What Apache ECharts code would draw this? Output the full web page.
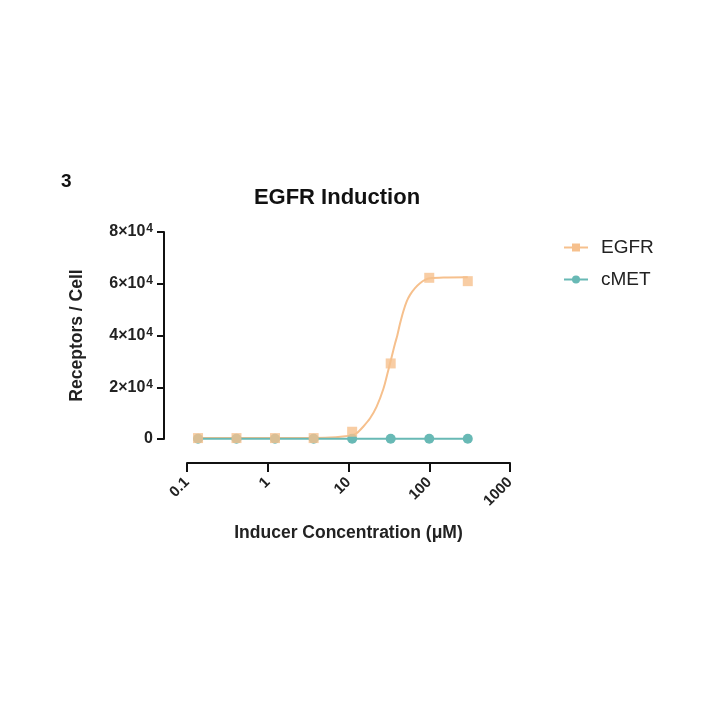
<!DOCTYPE html>
<html>
<head>
<meta charset="utf-8">
<title>EGFR Induction</title>
<script src="https://cdn.jsdelivr.net/npm/echarts@6/dist/echarts.min.js"></script>
<style>
  html, body { margin: 0; padding: 0; background: #fff; }
  #main { width: 720px; height: 720px; }
</style>
</head>
<body>
<div id="main"></div>
<script>
// 浓度（μM），3倍稀释
var concentrations = [0.137, 0.41, 1.23, 3.7, 11.1, 33.3, 100, 300];
// 受体数 / 细胞
var egfrValues = [350, 350, 350, 350, 2800, 29200, 62300, 61000];
var cmetValues = [100, 100, 100, 100, 100, 100, 100, 100];
// 拟合曲线
var fitX = [0.137, 1, 3, 5.9, 8.5, 11, 12.6, 15.2, 18.5, 22.3, 27, 31.1, 34.3, 37.7, 40.2, 43.4, 47.7, 52.6, 57.8, 66.6, 76.8, 88.5, 102, 150, 300];
var fitY = [380, 390, 420, 600, 1000, 1500, 2200, 4750, 8000, 12500, 19300, 26600, 31800, 36900, 40000, 44500, 49300, 53200, 55700, 58300, 60200, 61500, 62100, 62400, 62500];
var xTicks = [0.1, 1, 10, 100, 1000];
var yTicks = [0, 20000, 40000, 60000, 80000];

var orange = '#F6C08D';
var teal = '#68B9B5';
var font = '"Liberation Sans", Arial, Helvetica, sans-serif';

function pairs(xs, ys) {
    return xs.map(function (x, i) { return [x, ys[i]]; });
}

var myChart = echarts.init(document.getElementById('main'));
var option = {
    animation: false,
    title: [{
        text: 'EGFR Induction',
        left: 332,
        top: 182,
        textAlign: 'center',
        textStyle: { fontFamily: font, fontSize: 22, fontWeight: 'bold', color: '#111' }
    }, {
        text: '3',
        left: 56,
        top: 167,
        textStyle: { fontFamily: font, fontSize: 19, fontWeight: 'bold', color: '#111' }
    }],
    legend: {
        orient: 'vertical',
        left: 558,
        top: 233,
        itemWidth: 24,
        itemHeight: 10,
        itemGap: 13,
        textStyle: { fontFamily: font, fontSize: 19, color: '#222', padding: [0, 0, 0, 8] },
        data: ['EGFR', 'cMET']
    },
    grid: { left: 187, right: 210, top: 232, bottom: 281 },
    xAxis: {
        type: 'log',
        logBase: 10,
        min: xTicks[0],
        max: xTicks[xTicks.length - 1],
        offset: 24,
        name: 'Inducer Concentration (μM)',
        nameLocation: 'middle',
        nameGap: 61,
        nameMoveOverlap: false,
        nameTextStyle: { fontFamily: font, fontSize: 17.5, fontWeight: 'bold', color: '#222', verticalAlign: 'top' },
        axisLine: { onZero: false, lineStyle: { color: '#111', width: 2 } },
        axisTick: { length: 9, lineStyle: { color: '#111', width: 2 } },
        minorTick: { show: false },
        splitLine: { show: false },
        axisLabel: {
            rotate: 45,
            margin: 17,
            fontFamily: font,
            fontSize: 15,
            fontWeight: 'bold',
            color: '#222',
            formatter: function (v) {
                var m = xTicks.filter(function (t) { return Math.abs(t - v) / t < 1e-6; });
                return m.length ? String(m[0]) : '';
            }
        }
    },
    yAxis: {
        type: 'value',
        min: yTicks[0],
        max: yTicks[yTicks.length - 1],
        interval: yTicks[1] - yTicks[0],
        offset: 23,
        name: 'Receptors / Cell',
        nameLocation: 'middle',
        nameGap: 78,
        nameMoveOverlap: false,
        nameTextStyle: { fontFamily: font, fontSize: 17.5, fontWeight: 'bold', color: '#222' },
        axisLine: { show: true, lineStyle: { color: '#111', width: 2 } },
        axisTick: { show: true, length: 7, lineStyle: { color: '#111', width: 2 } },
        splitLine: { show: false },
        axisLabel: {
            margin: 11,
            color: '#222',
            formatter: function (v) {
                if (v === 0) return '{b|0}';
                var e = Math.floor(Math.log10(v));
                var m = Math.round(v / Math.pow(10, e));
                return '{b|' + m + '×10}{s|' + e + '}';
            },
            rich: {
                b: { fontFamily: font, fontSize: 16, fontWeight: 'bold', color: '#222' },
                s: { fontFamily: font, fontSize: 12, fontWeight: 'bold', color: '#222', padding: [0, 0, 6, 1] }
            }
        }
    },
    series: [{
        name: 'EGFR',
        type: 'line',
        data: pairs(fitX, fitY),
        smooth: 0.3,
        symbol: 'rect',
        symbolSize: 10,
        showSymbol: false,
        color: orange,
        lineStyle: { color: orange, width: 2 },
        z: 2
    }, {
        name: 'EGFR',
        type: 'scatter',
        data: pairs(concentrations, egfrValues),
        symbol: 'rect',
        symbolSize: 10,
        itemStyle: { color: orange },
        z: 4
    }, {
        name: 'cMET',
        type: 'line',
        data: pairs(concentrations, cmetValues),
        symbol: 'circle',
        symbolSize: 10,
        showSymbol: true,
        color: teal,
        itemStyle: { color: teal },
        lineStyle: { color: teal, width: 2 },
        z: 3
    }]
};
myChart.setOption(option);
</script>
</body>
</html>
